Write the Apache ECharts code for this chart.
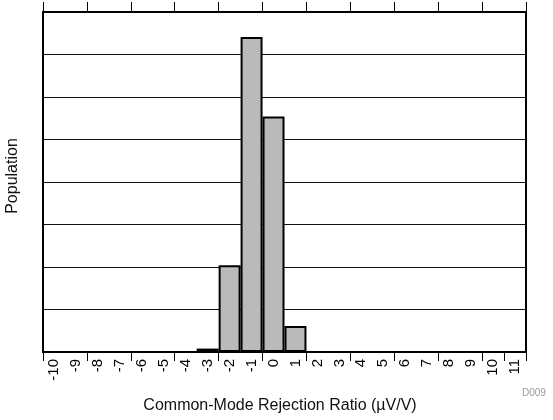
<!DOCTYPE html>
<html>
<head>
<meta charset="utf-8">
<script src="https://cdn.jsdelivr.net/npm/echarts@6/dist/echarts.min.js"></script>
<style>
  html, body { margin: 0; padding: 0; background: #fff; }
  #chart { width: 553px; height: 420px; }
</style>
</head>
<body>
<div id="chart"></div>
<script>
// Histogram bins (µV/V) and their relative population
const bins = ['-10','-9','-8','-7','-6','-5','-4','-3','-2','-1','0','1','2','3','4','5','6','7','8','9','10','11'];
const population = ['-','-','-','-','-','-','-', 0.08, 2.04, 7.41, 5.54, 0.61, '-','-','-','-','-','-','-','-','-','-'];

const FONT = 'Liberation Sans, Arial, Helvetica, sans-serif';
const chart = echarts.init(document.getElementById('chart'), null, { renderer: 'canvas' });

chart.setOption({
  animation: false,
  backgroundColor: '#ffffff',
  grid: {
    left: 43, right: 27, top: 12, bottom: 68,
    outerBoundsMode: 'none',
    containLabel: false,
    show: true, borderColor: '#000', borderWidth: 2, backgroundColor: 'transparent'
  },
  xAxis: [
    {
      type: 'category',
      data: bins,
      position: 'bottom',
      boundaryGap: true,
      axisLine: { show: true, lineStyle: { color: '#000', width: 2 } },
      axisTick: { show: true, interval: 1, length: 9, lineStyle: { color: '#000', width: 1 } },
      axisLabel: {
        interval: 0, rotate: 90, margin: 7,
        color: '#000', fontSize: 15, fontFamily: FONT
      },
      splitLine: { show: false },
      name: 'Common-Mode Rejection Ratio (\u00b5V/V)',
      nameLocation: 'middle',
      nameGap: 46,
      nameTextStyle: { color: '#111', fontSize: 16, fontFamily: FONT, padding: [0, 9, 0, 0] }
    },
    {
      type: 'category',
      data: bins,
      position: 'top',
      boundaryGap: true,
      axisLine: { show: true, lineStyle: { color: '#000', width: 2 } },
      axisTick: { show: true, interval: 1, length: 10, lineStyle: { color: '#000', width: 1 } },
      axisLabel: { show: false },
      splitLine: { show: false }
    }
  ],
  yAxis: {
    type: 'value',
    min: 0, max: 8, interval: 1,
    axisLine: { show: true, lineStyle: { color: '#000', width: 2 } },
    axisTick: { show: false },
    axisLabel: { show: false },
    splitLine: { show: true, lineStyle: { color: '#111', width: 1 } },
    name: 'Population',
    nameLocation: 'middle',
    nameGap: 22,
    nameTextStyle: { color: '#111', fontSize: 16, fontFamily: FONT, padding: [0, 0, 0, 12] }
  },
  series: [{
    type: 'bar',
    xAxisIndex: 0,
    data: population,
    barCategoryGap: '0%',
    itemStyle: { color: '#bababa', borderColor: '#000', borderWidth: 2 }
  }],
  graphic: [{
    type: 'text',
    left: 522, top: 388,
    style: { text: 'D009', fill: '#9a9a9a', fontSize: 10, fontFamily: FONT }
  }]
});
</script>
</body>
</html>
